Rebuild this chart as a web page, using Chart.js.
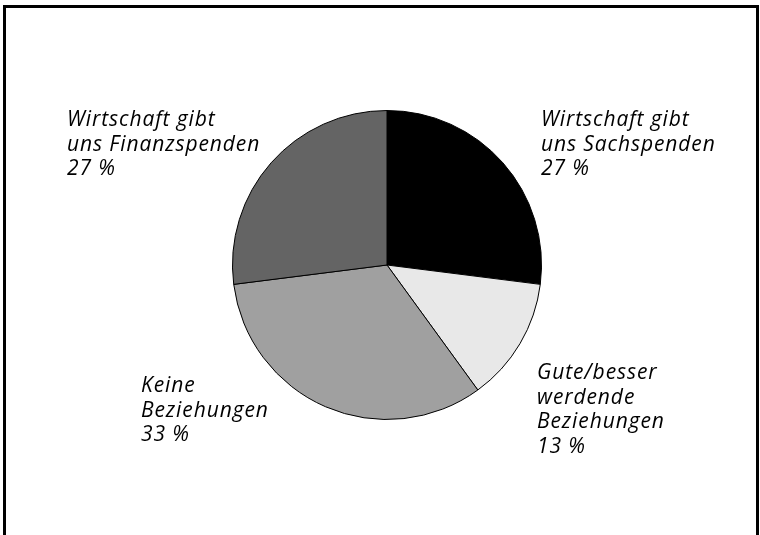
<!DOCTYPE html>
<html>
<head>
<meta charset="utf-8">
<script src="https://cdn.jsdelivr.net/npm/chart.js@4/dist/chart.umd.min.js"></script>
<style>
  html, body { margin: 0; padding: 0; background: #fff; }
  #wrap { width: 760px; height: 535px; position: relative; }
</style>
</head>
<body>
<div id="wrap"><canvas id="grafpie" width="760" height="535"></canvas></div>
<script>
// slices, clockwise from 12 o'clock
var etiquetas = [
    ["Wirtschaft gibt", "uns Sachspenden"],
    ["Gute/besser", "werdende", "Beziehungen"],
    ["Keine", "Beziehungen"],
    ["Wirtschaft gibt", "uns Finanzspenden"]
];
var porcentajes = [27, 13, 33, 27];
var colores = ["#000000", "#e8e8e8", "#a0a0a0", "#646464"];

// where each label block starts (left x, first baseline y)
var posLabels = [[541, 126], [537, 379], [141, 392], [67, 126]];

var marco = {
    id: "marco",
    beforeDraw: function(chart){
        var ctx = chart.ctx;
        ctx.save();
        ctx.fillStyle = "#fff";
        ctx.fillRect(0, 0, chart.width, chart.height);
        ctx.strokeStyle = "#000";
        ctx.lineWidth = 3;
        ctx.beginPath();
        ctx.moveTo(4.5, chart.height);
        ctx.lineTo(4.5, 6.5);
        ctx.lineTo(757.5, 6.5);
        ctx.lineTo(757.5, chart.height);
        ctx.stroke();
        ctx.restore();
    }
};

var textos = {
    id: "textos",
    afterDraw: function(chart){
        var ctx = chart.ctx;
        ctx.save();
        ctx.fillStyle = "#000";
        ctx.font = "italic 21px 'Open Sans'";
        ctx.letterSpacing = "0.9px";
        ctx.textAlign = "left";
        ctx.textBaseline = "alphabetic";
        var data = chart.data.datasets[0].data;
        for (var i in etiquetas){
            var lineas = etiquetas[i].concat([data[i] + " %"]);
            var p = posLabels[i];
            for (var j = 0; j < lineas.length; j++){
                ctx.fillText(lineas[j], p[0], p[1] + j * 24.5);
            }
        }
        ctx.restore();
    }
};

var ispie = document.getElementById("grafpie");
var pieChart = new Chart(ispie, {
    type: "pie",
    data: {
        labels: etiquetas.map(function(l){ return l.join(" "); }),
        datasets: [
            {
                data: porcentajes,
                backgroundColor: colores,
                borderColor: "#000",
                borderWidth: 1,
                hoverOffset: 0
            }
        ]
    },
    options: {
        responsive: false,
        animation: false,
        events: [],
        layout: { padding: { top: 110, bottom: 115, left: 232, right: 218 } },
        plugins: {
            legend: { display: false },
            tooltip: { enabled: false }
        }
    },
    plugins: [marco, textos]
});
</script>
</body>
</html>
